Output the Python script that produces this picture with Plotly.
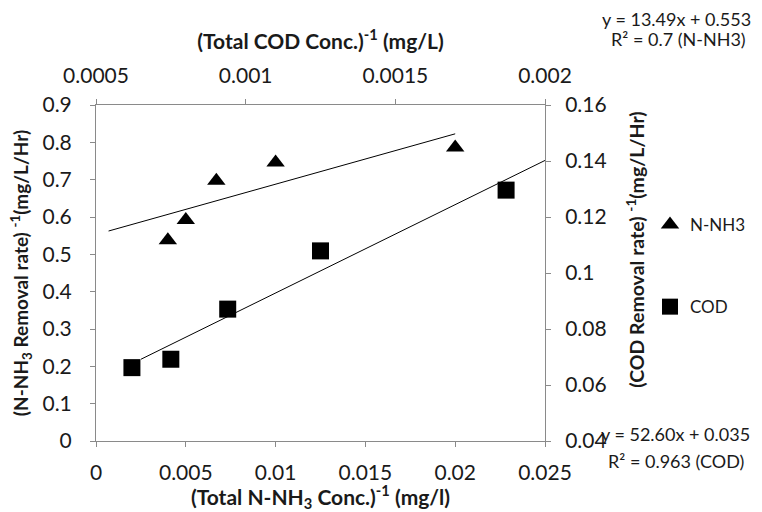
import plotly.graph_objects as go

# ---- data ----
nh3_x = [0.0040, 0.0050, 0.0067, 0.0100, 0.0200]      # (Total N-NH3 Conc.)^-1
nh3_y = [0.538, 0.592, 0.697, 0.746, 0.786]          # (N-NH3 removal rate)^-1

cod_x = [0.00062, 0.00075, 0.00094, 0.00125, 0.00187]  # (Total COD Conc.)^-1
cod_y = [0.0662, 0.0692, 0.0871, 0.1079, 0.1296]       # (COD removal rate)^-1

# trendline equations shown on the chart
nh3_slope, nh3_icpt = 13.49, 0.553
cod_slope, cod_icpt = 52.60, 0.035
nh3_fit_x = [0.0007, 0.0200]
cod_fit_x = [0.00065, 0.0020]

# tick labels
x_bottom_ticks = [0, 0.005, 0.01, 0.015, 0.02, 0.025]
x_bottom_text = ["0", "0.005", "0.01", "0.015", "0.02", "0.025"]
x_top_ticks = [0.0005, 0.001, 0.0015, 0.002]
x_top_text = ["0.0005", "0.001", "0.0015", "0.002"]
y_left_ticks = [0, 0.1, 0.2, 0.3, 0.4, 0.5, 0.6, 0.7, 0.8, 0.9]
y_left_text = ["0", "0.1", "0.2", "0.3", "0.4", "0.5", "0.6", "0.7", "0.8", "0.9"]
y_right_ticks = [0.04, 0.06, 0.08, 0.10, 0.12, 0.14, 0.16]
y_right_text = ["0.04", "0.06", "0.08", "0.1", "0.12", "0.14", "0.16"]

FONT = "Lato, 'Open Sans', sans-serif"
AX = "#8a8a8a"
TXT = "#1a1a1a"

fig = go.Figure()

fig.add_trace(go.Scatter(
    x=nh3_x, y=nh3_y, mode="markers", name="N-NH3", legendgroup="a",
    marker=dict(symbol="triangle-up", size=16, color="black", line=dict(width=0)),
    xaxis="x", yaxis="y"))
fig.add_trace(go.Scatter(
    x=cod_x, y=cod_y, mode="markers", name="COD", legendgroup="b",
    marker=dict(symbol="square", size=17, color="black", line=dict(width=0)),
    xaxis="x2", yaxis="y2"))
fig.add_trace(go.Scatter(
    x=nh3_fit_x, y=[nh3_slope * v + nh3_icpt for v in nh3_fit_x], mode="lines",
    line=dict(color="black", width=1), showlegend=False, hoverinfo="skip",
    xaxis="x", yaxis="y"))
fig.add_trace(go.Scatter(
    x=cod_fit_x, y=[cod_slope * v + cod_icpt for v in cod_fit_x], mode="lines",
    line=dict(color="black", width=1), showlegend=False, hoverinfo="skip",
    xaxis="x2", yaxis="y2"))

axis_common = dict(showgrid=False, zeroline=False, showline=True, linecolor=AX,
                   linewidth=1, ticks="outside", ticklen=5, tickcolor=AX,
                   automargin=False,
                   tickfont=dict(family=FONT, size=21, color=TXT))

# screen geometry (page has an 8px body margin)
OFF = 8
L, R, T, B = 96, 546, 105, 441          # plot area in screen pixels
W, H = 762 - OFF, 512 - OFF

def px(xp):
    return (xp - L) / (R - L)

def py(yp):
    return (B - yp) / (B - T)

fig.update_layout(
    width=W, height=H,
    margin=dict(l=L - OFF, r=W - (R - OFF), t=T - OFF, b=H - (B - OFF)),
    paper_bgcolor="white", plot_bgcolor="white",
    font=dict(family=FONT, color=TXT),
    xaxis=dict(range=[0, 0.025], tickvals=x_bottom_ticks, ticktext=x_bottom_text,
               ticklabelstandoff=8,
               title=dict(text="<b>(Total N-NH<sub>3</sub> Conc.)<sup>-1</sup> (mg/l)</b>",
                          font=dict(family=FONT, size=21, color=TXT), standoff=6),
               **axis_common),
    xaxis2=dict(range=[0.0005, 0.002], overlaying="x", side="top",
                tickvals=x_top_ticks, ticktext=x_top_text, ticklabelstandoff=8,
                title=dict(text="<b>(Total COD Conc.)<sup>-1</sup> (mg/L)</b>",
                           font=dict(family=FONT, size=21, color=TXT), standoff=6),
                **axis_common),
    yaxis=dict(range=[0, 0.9], tickvals=y_left_ticks, ticktext=y_left_text,
               ticklabelstandoff=14, **axis_common),
    yaxis2=dict(range=[0.04, 0.16], overlaying="y", side="right",
                tickvals=y_right_ticks, ticktext=y_right_text, ticklabelstandoff=10,
                **axis_common),
    showlegend=True,
    legend=dict(x=px(650), y=py(207), xanchor="left", yanchor="top",
                font=dict(family=FONT, size=17, color=TXT),
                tracegroupgap=57, bgcolor="rgba(0,0,0,0)", itemwidth=30),
)

fig.add_annotation(text="<b>(N-NH<sub>3</sub> Removal rate) <sup>-1</sup>(mg/L/Hr)</b>",
                   x=px(21), y=py(273), xref="paper", yref="paper",
                   textangle=-90, showarrow=False, xanchor="center", yanchor="middle",
                   font=dict(family=FONT, size=19, color=TXT))
fig.add_annotation(text="<b>(COD Removal rate) <sup>-1</sup>(mg/L/Hr)</b>",
                   x=px(636), y=py(250), xref="paper", yref="paper",
                   textangle=-90, showarrow=False, xanchor="center", yanchor="middle",
                   font=dict(family=FONT, size=19.5, color=TXT))

eq_font = dict(family=FONT, size=18, color=TXT)
for text, xp, yp in [("y = 13.49x + 0.553", 678, 19),
                     ("R² = 0.7 (N-NH3)", 680, 39),
                     ("y = 52.60x + 0.035", 677, 434),
                     ("R² = 0.963 (COD)", 677, 461)]:
    fig.add_annotation(text=text, x=px(xp), y=py(yp), xref="paper", yref="paper",
                       showarrow=False, font=eq_font, xanchor="center", yanchor="middle")

fig.write_html("out.html")
